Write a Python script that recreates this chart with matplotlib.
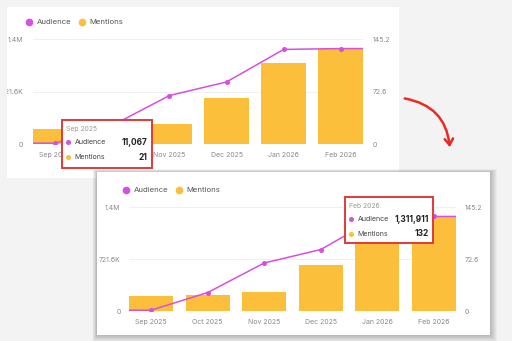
import numpy as np
import matplotlib.pyplot as plt
from matplotlib.patches import Rectangle, FancyArrowPatch
from matplotlib.lines import Line2D

plt.rcParams['font.family'] = ['Inter', 'DejaVu Sans']

months = ['Sep 2025', 'Oct 2025', 'Nov 2025', 'Dec 2025', 'Jan 2026', 'Feb 2026']
audience = [11067, 256000, 666000, 853000, 1300000, 1311911]
mentions = [21, 23, 27, 64, 112, 132]

aud_ticks = [0, 721600, 1443200]
aud_labels = ['0', '721.6K', '1.4M']
men_ticks = [0, 72.6, 145.2]
men_labels = ['0', '72.6', '145.2']

W, H = 512, 341
purple = '#d64fe0'
yellow = '#fbbf3c'
red = '#e0393a'
bar_w = 0.78

fig = plt.figure(figsize=(W / 100, H / 100), dpi=100)
fig.patch.set_facecolor('#f3f3f3')


def box(x0, y0, x1, y1):
    # pixel box (top-left origin) -> figure fraction [l, b, w, h]
    return [x0 / W, 1 - y1 / H, (x1 - x0) / W, (y1 - y0) / H]


def fx(x):
    return x / W


def fy(y):
    return 1 - y / H


def rect(x0, y0, x1, y1, z, **kw):
    l, b, w, h = box(x0, y0, x1, y1)
    r = Rectangle((l, b), w, h, transform=fig.transFigure, zorder=z, **kw)
    fig.add_artist(r)


def dot(x, y, c, z, s=4):
    fig.add_artist(Line2D([fx(x)], [fy(y)], marker='o', color=c, markersize=s,
                          transform=fig.transFigure, zorder=z, linestyle='none'))


def chart(area, z, pad_l, pad_r, pad_x):
    idx = np.arange(len(months))
    ax = fig.add_axes(box(*area))
    ax.set_zorder(z)
    ax.bar(idx, mentions, bar_w, color=yellow, zorder=2)
    ax.set_ylim(0, men_ticks[-1])
    ax.set_xlim(-bar_w / 2, len(months) - 1 + bar_w / 2)
    ax.set_xticks(idx, months)
    ax.tick_params(axis='x', length=0, pad=pad_x, labelsize=5, labelcolor='#8a8a8a')
    ax.set_facecolor('none')
    for s in ax.spines.values():
        s.set_visible(False)

    ax2 = ax.twinx()
    ax2.set_zorder(z + 0.01)
    ax2.patch.set_visible(False)
    xl = ax.get_xlim()
    ax2.plot([xl[0]] + list(idx) + [xl[1]], [audience[0]] + audience + [audience[-1]],
             color=purple, lw=1.1, zorder=3)
    ax2.plot(idx, audience, 'o', color=purple, markersize=2.6, zorder=4)
    ax2.set_ylim(0, aud_ticks[-1])
    for s in ax2.spines.values():
        s.set_visible(False)

    # mentions on the right, audience on the left
    ax.yaxis.tick_right()
    ax.set_yticks(men_ticks, men_labels)
    ax.tick_params(axis='y', length=0, pad=pad_r, labelsize=5, labelcolor='#8a8a8a')
    ax2.yaxis.tick_left()
    ax2.set_yticks(aud_ticks, aud_labels)
    ax2.tick_params(axis='y', length=0, pad=pad_l, labelsize=5, labelcolor='#8a8a8a')

    for t in aud_ticks:
        ax.axhline(t / aud_ticks[-1] * men_ticks[-1], color='#eeeeee', lw=0.6, zorder=1)
    ax.set_xlim(xl)
    return ax


def legend(x, y, z):
    dot(x, y, purple, z, 4.5)
    fig.text(fx(x + 7.5), fy(y), 'Audience', fontsize=5.6, color='#555555',
             va='center', zorder=z)
    dot(x + 53, y, yellow, z, 4.5)
    fig.text(fx(x + 60), fy(y), 'Mentions', fontsize=5.6, color='#555555',
             va='center', zorder=z)


def tooltip(b, i, z):
    x0, y0, x1, y1 = b
    rect(x0, y0, x1, y1, z, facecolor='white', edgecolor=red, lw=1.4)
    fig.text(fx(x0 + 4), fy(y0 + 8.5), months[i], fontsize=4.9, color='#999999',
             va='center', zorder=z + 0.01)
    rows = [('Audience', f'{audience[i]:,}', purple), ('Mentions', f'{mentions[i]}', yellow)]
    for k, (name, val, c) in enumerate(rows):
        yy = y0 + 22 + k * 15
        dot(x0 + 6, yy, c, z + 0.01, 2.6)
        fig.text(fx(x0 + 12.5), fy(yy), name, fontsize=5.1, color='#444444',
                 va='center', zorder=z + 0.01)
        fig.text(fx(x1 - 4.5), fy(yy), val, fontsize=6, color='#222222',
                 weight='bold', ha='right', va='center', zorder=z + 0.01)


# first (back) panel
rect(7, 7, 399, 178, 0.1, facecolor='white', edgecolor='none')
chart((33, 39, 363, 144), 0.2, 7, 7, 5.5)
legend(29, 22, 0.25)
tooltip((62, 120, 151.5, 167.5), 0, 0.3)
rect(0, 0, 7, 180, 0.32, facecolor='#f3f3f3', edgecolor='none')

# shadow of the front panel
for k in range(7, 0, -1):
    rect(97 - k * 0.6, 172 - k * 0.4, 490 + k, 335 + k, 0.4,
         facecolor='black', edgecolor='none', alpha=0.035)

# second (front) panel
rect(97, 172, 490, 335, 0.5, facecolor='white', edgecolor='none')
chart((129, 207, 456, 311), 0.6, 6, 6, 5.5)
legend(126, 190, 0.65)
tooltip((345, 197, 433, 243), 5, 0.7)

# red arrow between the panels
arrow = FancyArrowPatch((fx(402), fy(98)), (fx(450), fy(150)),
                        transform=fig.transFigure, connectionstyle='arc3,rad=-0.4',
                        arrowstyle='->,head_length=4.5,head_width=3',
                        color='#ea2b24', lw=1.8, zorder=0.8)
fig.add_artist(arrow)

fig.savefig('out.png', dpi=100, facecolor=fig.get_facecolor())
